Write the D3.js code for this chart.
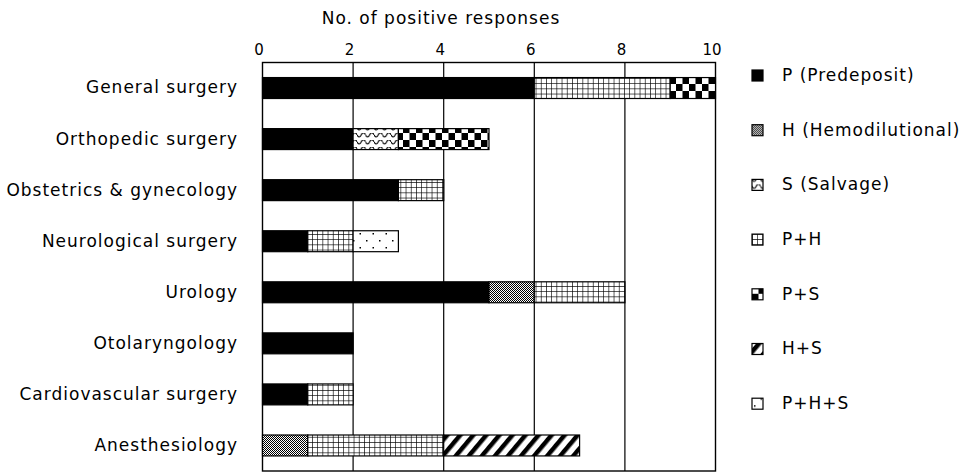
<!DOCTYPE html>
<html><head><meta charset="utf-8">
<script src="https://cdn.jsdelivr.net/npm/d3@7"></script>
<style>body{margin:0;background:#fff}svg{display:block}text{font-family:"DejaVu Sans",sans-serif;fill:#000}</style>
</head><body><svg id="c" width="959" height="472"></svg>
<script>
const categories=["General surgery","Orthopedic surgery","Obstetrics & gynecology","Neurological surgery","Urology","Otolaryngology","Cardiovascular surgery","Anesthesiology"];
const seriesNames=["P (Predeposit)","H (Hemodilutional)","S (Salvage)","P+H","P+S","H+S","P+H+S"];
const seriesKeys=["P","H","S","PH","PS","HS","PHS"];
const P  =[6,2,3,1,5,2,1,0];
const H  =[0,0,0,0,1,0,0,1];
const S  =[0,1,0,0,0,0,0,0];
const PH =[3,0,1,1,2,0,1,3];
const PS =[1,2,0,0,0,0,0,0];
const HS =[0,0,0,0,0,0,0,3];
const PHS=[0,0,0,1,0,0,0,0];
const xTicks=[0,2,4,6,8,10];
const axisTitle="No. of positive responses";
const seriesValues={P,H,S,PH,PS,HS,PHS};

const svg=d3.select("#c");
const defs=svg.append("defs");
function pat(id,w,h){return defs.append("pattern").attr("id",id).attr("patternUnits","userSpaceOnUse").attr("width",w).attr("height",h);}
let p;
p=pat("pH",2,2);p.append("rect").attr("width",2).attr("height",2).attr("fill","#fff");
p.append("rect").attr("width",1).attr("height",1).attr("fill","#000");
p.append("rect").attr("x",1).attr("y",1).attr("width",1).attr("height",1).attr("fill","#000");
p=pat("pS",8.5,7);p.append("rect").attr("width",8.5).attr("height",7).attr("fill","#fff");
p.append("path").attr("d","M0,1.8 Q2.125,6.2 4.25,1.8 T8.5,1.8").attr("fill","none").attr("stroke","#000").attr("stroke-width",1.1);
p=pat("pPH",5.2,5.2);p.append("rect").attr("width",5.2).attr("height",5.2).attr("fill","#fff");
p.append("path").attr("d","M0,0H5.2M0,0V5.2").attr("stroke","#000").attr("stroke-width",1.3);
p=pat("pPS",13,14);p.append("rect").attr("width",13).attr("height",14).attr("fill","#fff");
p.append("rect").attr("width",6.5).attr("height",7).attr("fill","#000");
p.append("rect").attr("x",6.5).attr("y",7).attr("width",6.5).attr("height",7).attr("fill","#000");
p=pat("pHS",10,10).attr("patternTransform","rotate(40)");p.append("rect").attr("width",10).attr("height",10).attr("fill","#fff");
p.append("rect").attr("width",4.5).attr("height",10).attr("fill","#000");
p=pat("pPHS",13,14);p.append("rect").attr("width",13).attr("height",14).attr("fill","#fff");
p.append("rect").attr("x",2).attr("y",2).attr("width",1.5).attr("height",1.5).attr("fill","#000");
p.append("rect").attr("x",8.5).attr("y",9).attr("width",1.5).attr("height",1.5).attr("fill","#000");
const fills={P:"#000",H:"url(#pH)",S:"url(#pS)",PH:"url(#pPH)",PS:"url(#pPS)",HS:"url(#pHS)",PHS:"url(#pPHS)"};

const x=d3.scaleLinear().domain([0,10]).range([262.5,715.5]);
const y=d3.scaleBand().domain(categories).range([62.5,471]).paddingInner(0.59).paddingOuter(0.295);

svg.append("g").selectAll("line").data(xTicks.slice(1,-1)).join("line")
 .attr("x1",d=>x(d)).attr("x2",d=>x(d)).attr("y1",62.5).attr("y2",471).attr("stroke","#000").attr("stroke-width",1.2);
svg.append("rect").attr("x",x(0)).attr("y",62.5).attr("width",x(10)-x(0)).attr("height",471-62.5).attr("fill","none").attr("stroke","#000").attr("stroke-width",1.4);

const rows=categories.map((c,i)=>{const o={cat:c};seriesKeys.forEach(k=>o[k]=seriesValues[k][i]);return o;});
const stacked=d3.stack().keys(seriesKeys)(rows);
svg.append("g").selectAll("g").data(stacked).join("g").attr("fill",d=>fills[d.key])
 .selectAll("rect").data(d=>d.filter(s=>s[1]-s[0]>0)).join("rect")
 .attr("x",d=>x(d[0])).attr("width",d=>x(d[1])-x(d[0]))
 .attr("y",d=>y(d.data.cat)).attr("height",y.bandwidth())
 .attr("stroke","#000").attr("stroke-width",1.2);

const ax=svg.append("g").attr("transform","translate(0,62.5)").call(d3.axisTop(x).tickValues(xTicks).tickSize(0).tickPadding(8));
ax.select(".domain").remove();
ax.selectAll("text").attr("font-size",15).attr("dx",-4).style("font-family","DejaVu Sans");
svg.append("text").attr("x",441).attr("y",24).attr("text-anchor","middle").attr("font-size",17).attr("letter-spacing",1).text(axisTitle);
const ay=svg.append("g").attr("transform","translate(238,0)").call(d3.axisLeft(y).tickSize(0).tickPadding(0));
ay.select(".domain").remove();
ay.selectAll("text").attr("font-size",17).attr("letter-spacing",1).style("font-family","DejaVu Sans");

const lg=svg.append("g").selectAll("g").data(seriesKeys).join("g")
 .attr("transform",(d,i)=>`translate(752,${75+i*54.7})`);
lg.append("rect").attr("x",0).attr("y",-5).attr("width",11).attr("height",11).attr("fill",d=>fills[d]).attr("stroke","#000").attr("stroke-width",1.2);
lg.append("text").attr("x",30).attr("y",0).attr("dy","0.35em").attr("font-size",17).attr("letter-spacing",1).text((d,i)=>seriesNames[i]);
</script></body></html>
